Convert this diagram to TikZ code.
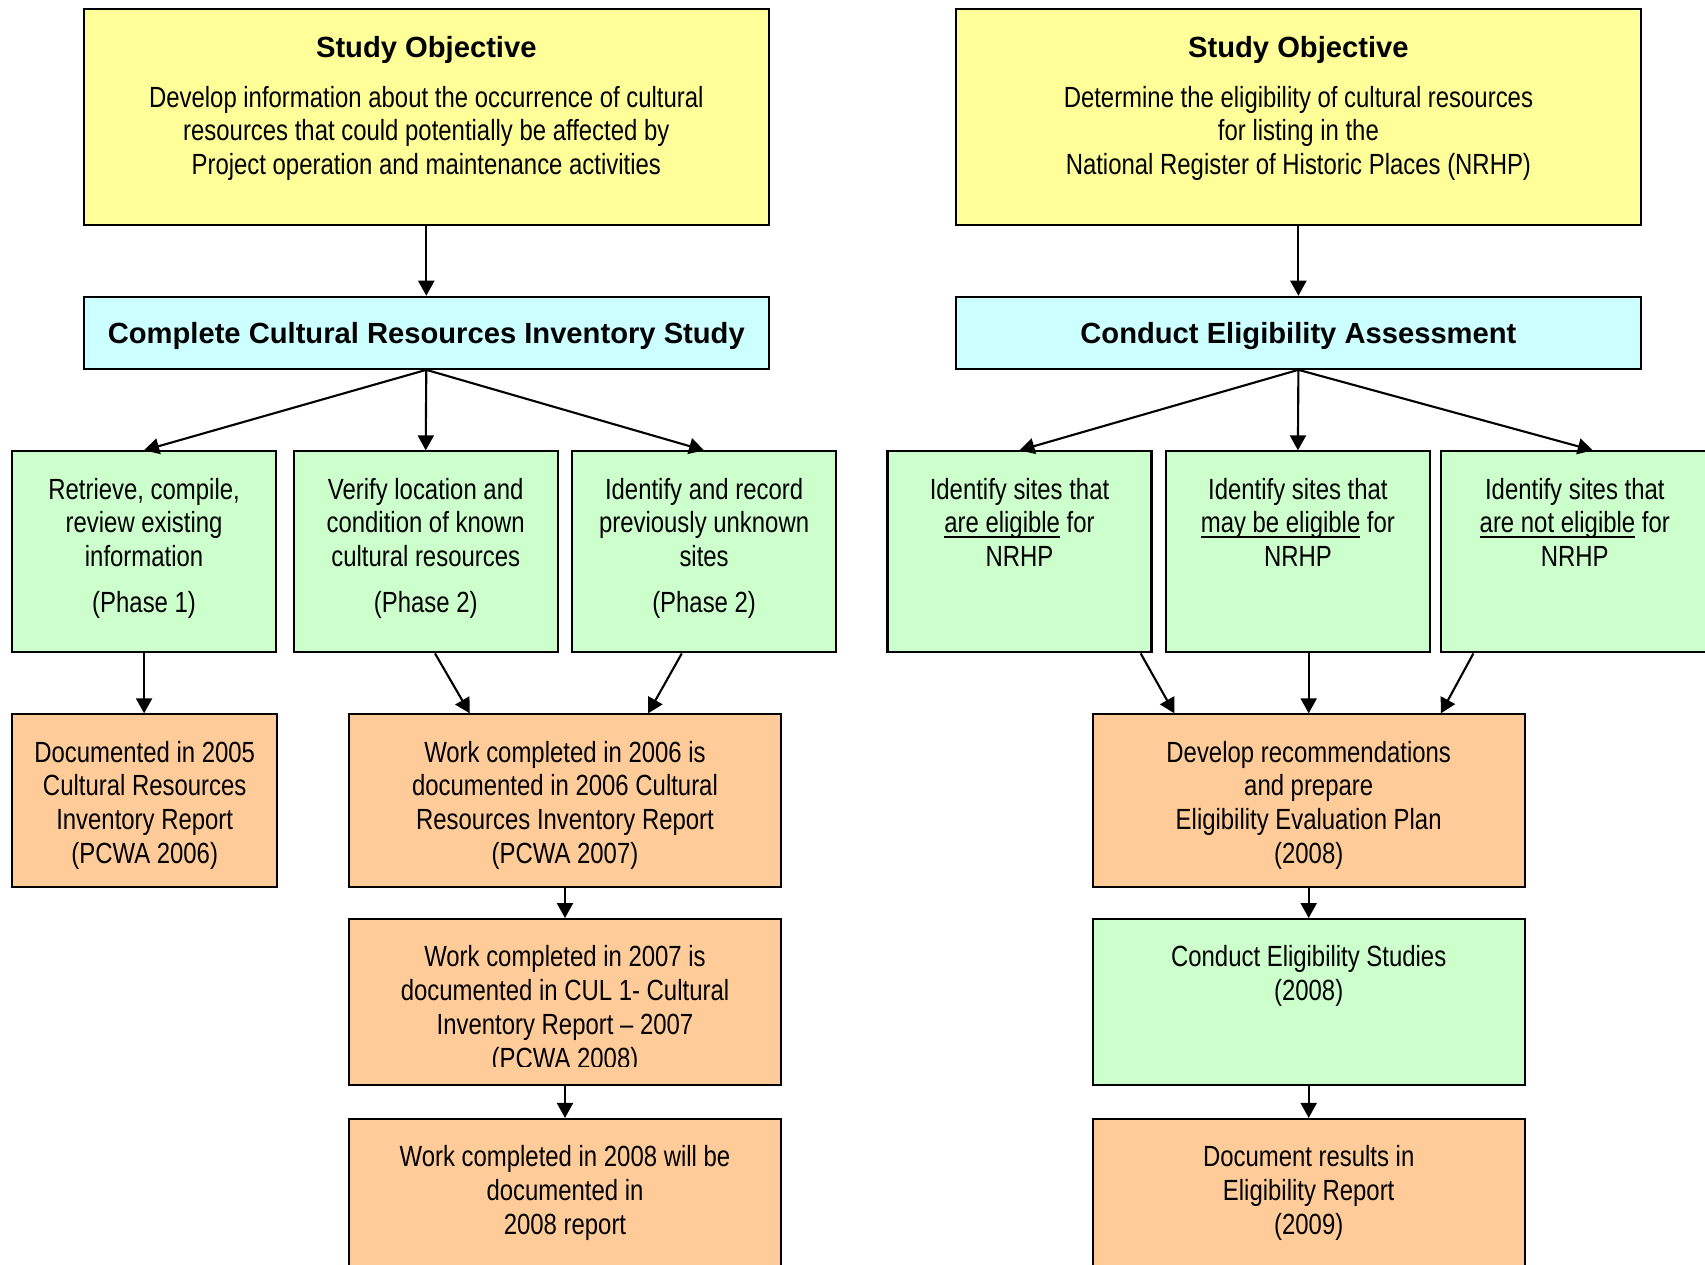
\documentclass[tikz,border=0pt]{standalone}
\usepackage{fontspec}
\setmainfont{Liberation Sans}[FakeStretch=0.82]
\newfontfamily\titlefont{Liberation Sans}
\usetikzlibrary{arrows.meta, shapes}
\definecolor{objyellow}{HTML}{FFFF99}
\definecolor{studycyan}{HTML}{CCFFFF}
\definecolor{taskgreen}{HTML}{CCFFCC}
\definecolor{reportorange}{HTML}{FFCC99}
\newcommand{\bodysize}{\fontsize{8.3}{9.6}\selectfont}
\newcommand{\eligline}[1]{\setbox0\hbox{#1}\rlap{\rule[-1.45pt]{\wd0}{0.6pt}}\box0\relax}
\tikzstyle{objective} = [rectangle, minimum width=6.85cm, minimum height=2.16cm, draw=black, line width=0.6pt, fill=objyellow]
\tikzstyle{study} = [rectangle, minimum width=6.85cm, minimum height=0.72cm, draw=black, line width=0.6pt, fill=studycyan, text depth=0pt, font=\titlefont\bfseries\bodysize]
\tikzstyle{task} = [rectangle, minimum width=2.64cm, minimum height=2.01cm, draw=black, line width=0.6pt, fill=taskgreen]
\tikzstyle{report} = [rectangle, minimum width=4.32cm, minimum height=1.73cm, draw=black, line width=0.6pt, fill=reportorange]
\tikzstyle{boxtext} = [anchor=north, inner sep=0pt, align=center, font=\bodysize]
\tikzstyle{arrow} = [line width=0.6pt, -{Triangle[length=1.5mm, width=1.6mm]}]

\begin{document}
\begin{tikzpicture}

\useasboundingbox (0,0) rectangle (17.05,-12.65);

% study objectives
\node at (4.263, -1.169) (obj1) [objective] {};
\node at (12.984, -1.169) (obj2) [objective] {};
\node at ([yshift=-2.75mm]obj1.north) (obj1t) [boxtext] {{\titlefont\bfseries Study Objective}\\[4.6pt]
  Develop information about the occurrence of cultural\\ resources that could potentially be affected by\\ Project operation and maintenance activities};
\node at ([yshift=-2.75mm]obj2.north) (obj2t) [boxtext] {{\titlefont\bfseries Study Objective}\\[4.6pt]
  Determine the eligibility of cultural resources\\ for listing in the\\ National Register of Historic Places (NRHP)};

\node at (4.263, -3.328) (study1) [study] {Complete Cultural Resources Inventory Study};
\node at (12.984, -3.328) (study2) [study] {Conduct Eligibility Assessment};

% inventory tasks
\node at (1.441, -5.519) (g1) [task] {};
\node at (4.257, -5.519) (g2) [task] {};
\node at (7.041, -5.519) (g3) [task] {};
\node at ([yshift=-2.7mm]g1.north) (g1t) [boxtext] {Retrieve, compile,\\ review existing\\ information\\[3.4pt] (Phase 1)};
\node at ([yshift=-2.7mm]g2.north) (g2t) [boxtext] {Verify location and\\ condition of known\\ cultural resources\\[3.4pt] (Phase 2)};
\node at ([yshift=-2.7mm]g3.north) (g3t) [boxtext] {Identify and record\\ previously unknown\\ sites\\[3.4pt] (Phase 2)};

% eligibility tasks
\node at (10.195, -5.519) (g4) [task] {};
\node at (12.979, -5.519) (g5) [task] {};
\node at (15.748, -5.519) (g6) [task, minimum width=2.68cm] {};
\node at ([yshift=-2.7mm]g4.north) (g4t) [boxtext] {Identify sites that\\ \eligline{are eligible} for\\ NRHP};
\node at ([yshift=-2.7mm]g5.north) (g5t) [boxtext] {Identify sites that\\ \eligline{may be eligible} for\\ NRHP};
\node at ([yshift=-2.7mm]g6.north) (g6t) [boxtext] {Identify sites that\\ \eligline{are not eligible} for\\ NRHP};

% inventory reports
\node at (1.447, -8.009) (o1) [report, minimum width=2.65cm] {};
\node at (5.650, -8.009) (o2) [report] {};
\node at (5.650, -10.021) (o3) [report, minimum height=1.66cm] {};
\node at (5.650, -12.095) (o4) [report, minimum height=1.81cm] {};
\node at ([yshift=-2.7mm]o1.north) (o1t) [boxtext] {Documented in 2005\\ Cultural Resources\\ Inventory Report\\ (PCWA 2006)};
\node at ([yshift=-2.7mm]o2.north) (o2t) [boxtext] {Work completed in 2006 is\\ documented in 2006 Cultural\\ Resources Inventory Report\\ (PCWA 2007)};
\begin{scope}
\clip (o3.north west) rectangle ([yshift=2.0mm]o3.south east);
\node at ([yshift=-2.7mm]o3.north) (o3t) [boxtext] {Work completed in 2007 is\\ documented in CUL 1- Cultural\\ Inventory Report -- 2007\\ (PCWA 2008)};
\end{scope}
\node at ([yshift=-2.7mm]o4.north) (o4t) [boxtext] {Work completed in 2008 will be\\ documented in\\ 2008 report};

% eligibility reports
\node at (13.087, -8.009) (r1) [report] {};
\node at (13.087, -10.021) (r2) [report, minimum height=1.66cm, fill=taskgreen] {};
\node at (13.087, -12.095) (r3) [report, minimum height=1.81cm] {};
\node at ([yshift=-2.7mm]r1.north) (r1t) [boxtext] {Develop recommendations\\ and prepare\\ Eligibility Evaluation Plan\\ (2008)};
\node at ([yshift=-2.7mm]r2.north) (r2t) [boxtext] {Conduct Eligibility Studies\\ (2008)};
\node at ([yshift=-2.7mm]r3.north) (r3t) [boxtext] {Document results in\\ Eligibility Report\\ (2009)};

% connectors
\draw [arrow] (obj1) -- (study1);
\draw [arrow] (obj2) -- (study2);
\draw [arrow] (study1.south) -- (g1.north);
\draw [arrow] (study1.south) -- (g2.north);
\draw [arrow] (study1.south) -- (g3.north);
\draw [arrow] (study2.south) -- (g4.north);
\draw [arrow] (study2.south) -- (g5.north);
\draw [arrow] (study2.south) -- ([xshift=1.8mm]g6.north);
\draw [arrow] (g1.south) -- (g1.south |- o1.north);
\draw [arrow] ([xshift=0.93mm]g2.south) -- ([xshift=-9.52mm]o2.north);
\draw [arrow] ([xshift=-2.23mm]g3.south) -- ([xshift=8.31mm]o2.north);
\draw [arrow] (o2) -- (o3);
\draw [arrow] (o3) -- (o4);
\draw [arrow] ([xshift=12.12mm]g4.south) -- ([xshift=-13.43mm]r1.north);
\draw [arrow] (g5.south -| r1.north) -- (r1.north);
\draw [arrow] ([xshift=-10.14mm]g6.south) -- ([xshift=13.21mm]r1.north);
\draw [arrow] (r1) -- (r2);
\draw [arrow] (r2) -- (r3);

\end{tikzpicture}
\end{document}
